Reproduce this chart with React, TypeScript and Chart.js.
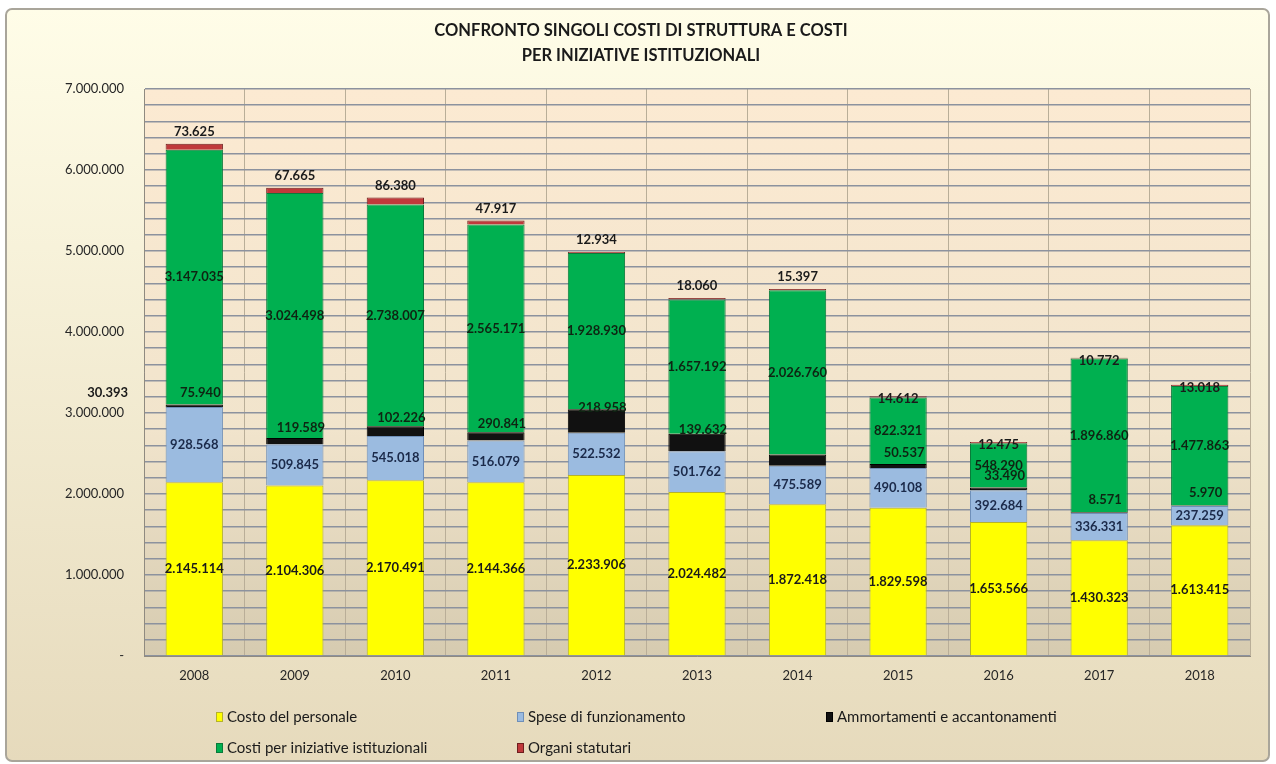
import React, { useEffect, useRef } from "react";
import { Chart, registerables } from "chart.js";

Chart.register(...registerables);

const years = ["2008", "2009", "2010", "2011", "2012", "2013", "2014", "2015", "2016", "2017", "2018"];
const costoPersonale = [2145114, 2104306, 2170491, 2144366, 2233906, 2024482, 1872418, 1829598, 1653566, 1430323, 1613415];
const speseFunzionamento = [928568, 509845, 545018, 516079, 522532, 501762, 475589, 490108, 392684, 336331, 237259];
const ammortamenti = [30393, 75940, 119589, 102226, 290841, 218958, 139632, 50537, 33490, 8571, 5970];
const costiIniziative = [3147035, 3024498, 2738007, 2565171, 1928930, 1657192, 2026760, 822321, 548290, 1896860, 1477863];
const organiStatutari = [73625, 67665, 86380, 47917, 12934, 18060, 15397, 14612, 12475, 10772, 13018];
// In the original, the depreciation labels of 2008-2013 show the value of the following year
const ammortLabelSource = [1, 2, 3, 4, 5, 6, -1, 7, 8, 9, 10];
const strayAmmortLabelSource = 0;

const seriesNames = [
  "Costo del personale",
  "Spese di funzionamento",
  "Ammortamenti e accantonamenti",
  "Costi per iniziative istituzionali",
  "Organi statutari",
];
const seriesColors = ["#FFFF00", "#9BBBE0", "#111111", "#00B050", "#C0393B"];
const seriesBorders = ["#B5B22A", "#6F8FB8", "#000000", "#0A7A3A", "#6E1E1E"];
const titleLines = ["CONFRONTO SINGOLI COSTI DI STRUTTURA E COSTI", "PER INIZIATIVE ISTITUZIONALI"];

const fmt = (n: number) => String(Math.round(n)).replace(/\B(?=(\d{3})+(?!\d))/g, ".");

const FONT = "Lato, 'Noto Sans', sans-serif";

const decorPlugin = {
  id: "decor",
  beforeDraw(chart: any) {
    const { ctx, chartArea: a, width, height } = chart;
    ctx.save();
    const g = ctx.createLinearGradient(0, 8, 0, height - 2);
    g.addColorStop(0, "#FFFDE8");
    g.addColorStop(1, "#E6DABC");
    ctx.fillStyle = "#ffffff";
    ctx.fillRect(0, 0, width, height);
    ctx.beginPath();
    const x0 = 6, y0 = 9, x1 = width - 7, y1 = height - 3, r = 6;
    ctx.moveTo(x0 + r, y0);
    ctx.arcTo(x1, y0, x1, y1, r);
    ctx.arcTo(x1, y1, x0, y1, r);
    ctx.arcTo(x0, y1, x0, y0, r);
    ctx.arcTo(x0, y0, x1, y0, r);
    ctx.closePath();
    ctx.fillStyle = g;
    ctx.fill();
    ctx.lineWidth = 2;
    ctx.strokeStyle = "#A9A59A";
    ctx.stroke();
    const pg = ctx.createLinearGradient(0, a.top, 0, a.bottom);
    pg.addColorStop(0, "#FCEAD2");
    pg.addColorStop(0.6, "#F1E4CC");
    pg.addColorStop(1, "#D6CBB0");
    ctx.fillStyle = pg;
    ctx.fillRect(a.left, a.top, a.right - a.left, a.bottom - a.top);
    ctx.fillStyle = "#1a1a1a";
    ctx.font = "bold 16.5px " + FONT;
    ctx.textAlign = "center";
    ctx.textBaseline = "middle";
    ctx.fillText(titleLines[0], 641, 31);
    ctx.fillText(titleLines[1], 641, 56);
    const cols = [216, 517, 826];
    const rows = [717, 748];
    ctx.font = "15px " + FONT;
    ctx.textAlign = "left";
    seriesNames.forEach((name, i) => {
      const cx = cols[i % 3];
      const cy = rows[Math.floor(i / 3)];
      ctx.fillStyle = seriesColors[i];
      ctx.fillRect(cx, cy - 5, 7, 10);
      ctx.strokeStyle = seriesBorders[i];
      ctx.lineWidth = 1;
      ctx.strokeRect(cx + 0.5, cy - 4.5, 6, 9);
      ctx.fillStyle = "#1a1a1a";
      ctx.fillText(name, cx + 11, cy);
    });
    ctx.restore();
  },
  afterDatasetsDraw(chart: any) {
    const { ctx } = chart;
    ctx.save();
    ctx.font = "bold 13px " + FONT;
    ctx.textAlign = "center";
    ctx.textBaseline = "middle";
    const metas = [0, 1, 2, 3, 4].map((d) => chart.getDatasetMeta(d));
    const mid = (el: any) => (el.y + el.base) / 2;
    years.forEach((_, i) => {
      const y0 = metas[0].data[i];
      ctx.fillStyle = "#1a1a1a";
      ctx.fillText(fmt(costoPersonale[i]), y0.x, mid(y0));
      const b = metas[1].data[i];
      ctx.fillStyle = "#1B2A4A";
      ctx.fillText(fmt(speseFunzionamento[i]), b.x, mid(b));
      const k = metas[2].data[i];
      const src = ammortLabelSource[i];
      ctx.fillStyle = "#0E2412";
      if (src >= 0) ctx.fillText(fmt(ammortamenti[src]), k.x + 6, mid(k) - 13);
      const gEl = metas[3].data[i];
      ctx.fillStyle = "#0E2412";
      ctx.fillText(fmt(costiIniziative[i]), gEl.x, mid(gEl));
      const rEl = metas[4].data[i];
      ctx.fillStyle = "#1a1a1a";
      const ry = i < 7 ? rEl.y - 12 : rEl.y + 3;
      ctx.fillText(fmt(organiStatutari[i]), rEl.x, ry);
    });
    const k0 = metas[2].data[0];
    ctx.fillStyle = "#1a1a1a";
    ctx.textAlign = "right";
    ctx.fillText(fmt(ammortamenti[strayAmmortLabelSource]), 128, mid(k0) - 13);
    ctx.restore();
  },
};

export default function App() {
  const ref = useRef<HTMLCanvasElement | null>(null);
  useEffect(() => {
    if (!ref.current) return;
    const series = [costoPersonale, speseFunzionamento, ammortamenti, costiIniziative, organiStatutari];
    const chart = new Chart(ref.current, {
      type: "bar",
      data: {
        labels: years,
        datasets: series.map((d, i) => ({
          label: seriesNames[i],
          data: d,
          backgroundColor: seriesColors[i],
          borderColor: seriesBorders[i],
          borderWidth: 1,
          barPercentage: 0.57,
          categoryPercentage: 1,
        })),
      },
      options: {
        animation: false,
        responsive: false,
        devicePixelRatio: 1,
        layout: { padding: { top: 89, right: 26, bottom: 68, left: 0 } },
        plugins: { legend: { display: false }, tooltip: { enabled: false }, title: { display: false } },
        scales: {
          x: {
            stacked: true,
            grid: { color: "#B9AE98", lineWidth: 1, drawTicks: false, offset: true },
            border: { color: "#8F8A80" },
            ticks: { color: "#262626", font: { family: FONT, size: 13 }, padding: 12 },
            afterFit: (s: any) => { s.height = 40; },
          },
          y: {
            stacked: true,
            min: 0,
            max: 7000000,
            grid: { color: "#8C929E", lineWidth: 1.5, drawTicks: false },
            border: { color: "#8F8A80" },
            ticks: {
              stepSize: 200000,
              autoSkip: false,
              color: "#262626",
              font: { family: FONT, size: 13 },
              padding: 20,
              callback: (v: any) => (v === 0 ? "-" : v % 1000000 === 0 ? fmt(v) : ""),
            },
            afterFit: (s: any) => { s.width = 144; },
          },
        },
      },
      plugins: [decorPlugin],
    });
    return () => chart.destroy();
  }, []);
  return (
    <div style={{ position: "absolute", left: 0, top: 0, width: 1276, height: 764 }}>
      <canvas ref={ref} width={1276} height={764} style={{ width: 1276, height: 764 }} />
    </div>
  );
}
